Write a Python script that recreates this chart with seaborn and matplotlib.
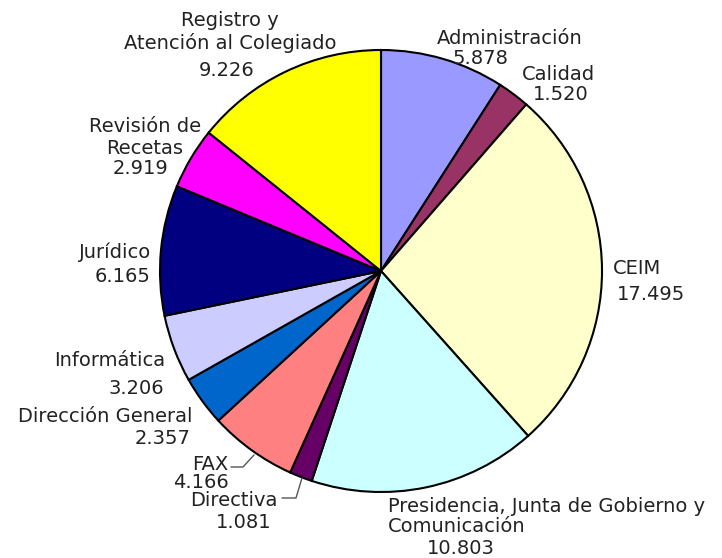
import matplotlib
matplotlib.use("Agg")
import matplotlib.pyplot as plt
import seaborn as sns

sns.set_theme(style="white")
plt.rcParams['font.family'] = ['DejaVu Sans']

categories = ["Administración", "Calidad", "CEIM",
              "Presidencia, Junta de Gobierno y\nComunicación", "Directiva", "FAX",
              "Dirección General", "Informática", "Jurídico",
              "Revisión de\nRecetas", "Registro y\nAtención al Colegiado"]
values = [5.878, 1.520, 17.495, 10.803, 1.081, 4.166, 2.357, 3.206, 6.165, 2.919, 9.226]
value_labels = ["5.878", "1.520", "17.495", "10.803", "1.081", "4.166",
                "2.357", "3.206", "6.165", "2.919", "9.226"]
colors = ["#9999FF", "#993366", "#FFFFCC", "#CCFFFF", "#660066", "#FF8080",
          "#0066CC", "#CCCCFF", "#000080", "#FF00FF", "#FFFF00"]

W, H = 722, 558
fig = plt.figure(figsize=(W / 100, H / 100), dpi=100)
ax = fig.add_axes([0, 0, 1, 1])
ax.pie(values, colors=colors, startangle=90, counterclock=False,
       center=(381, H - 271), radius=221,
       wedgeprops=dict(edgecolor="black", linewidth=1.5), frame=True)
ax.set_xlim(0, W)
ax.set_ylim(0, H)
ax.set_aspect("equal")
ax.axis("off")

tc = "#222222"
fs = 14.0

def txt(x, y, s, ha="left"):
    ax.text(x, H - y, s, ha=ha, va="center", fontsize=fs, color=tc)

# label layout (pixel positions)
# Registro
txt(230, 21, "Registro y", ha="center")
txt(230, 43, "Atención al Colegiado", ha="center")
txt(227, 70, value_labels[10], ha="center")
# Administración
txt(437, 39, categories[0])
txt(453, 58, value_labels[0])
# Calidad
txt(522, 75, categories[1])
txt(533, 95, value_labels[1])
# CEIM
txt(613, 269, categories[2])
txt(617, 294, value_labels[2])
# Presidencia
txt(388, 507, "Presidencia, Junta de Gobierno y")
txt(388, 527, "Comunicación")
txt(427, 548, value_labels[3])
# Directiva
txt(278, 500, categories[4], ha="right")
txt(272, 522, value_labels[4], ha="right")
# FAX
txt(228, 464, categories[5], ha="right")
txt(229, 482, value_labels[5], ha="right")
# Dirección General
txt(192, 417, categories[6], ha="right")
txt(190, 438, value_labels[6], ha="right")
# Informática
txt(165, 361, categories[7], ha="right")
txt(164, 388, value_labels[7], ha="right")
# Jurídico
txt(151, 252, categories[8], ha="right")
txt(150, 277, value_labels[8], ha="right")
# Revisión de Recetas
txt(145, 127, "Revisión de", ha="center")
txt(145, 148, "Recetas", ha="center")
txt(141, 168, value_labels[9], ha="center")

# leader lines
lc = "#555555"
ax.plot([231, 243, 254], [H - 467, H - 467, H - 455], color=lc, lw=1)
ax.plot([282, 296, 302], [H - 498, H - 498, H - 478], color=lc, lw=1)

fig.savefig("out.png", dpi=100, facecolor="white")
